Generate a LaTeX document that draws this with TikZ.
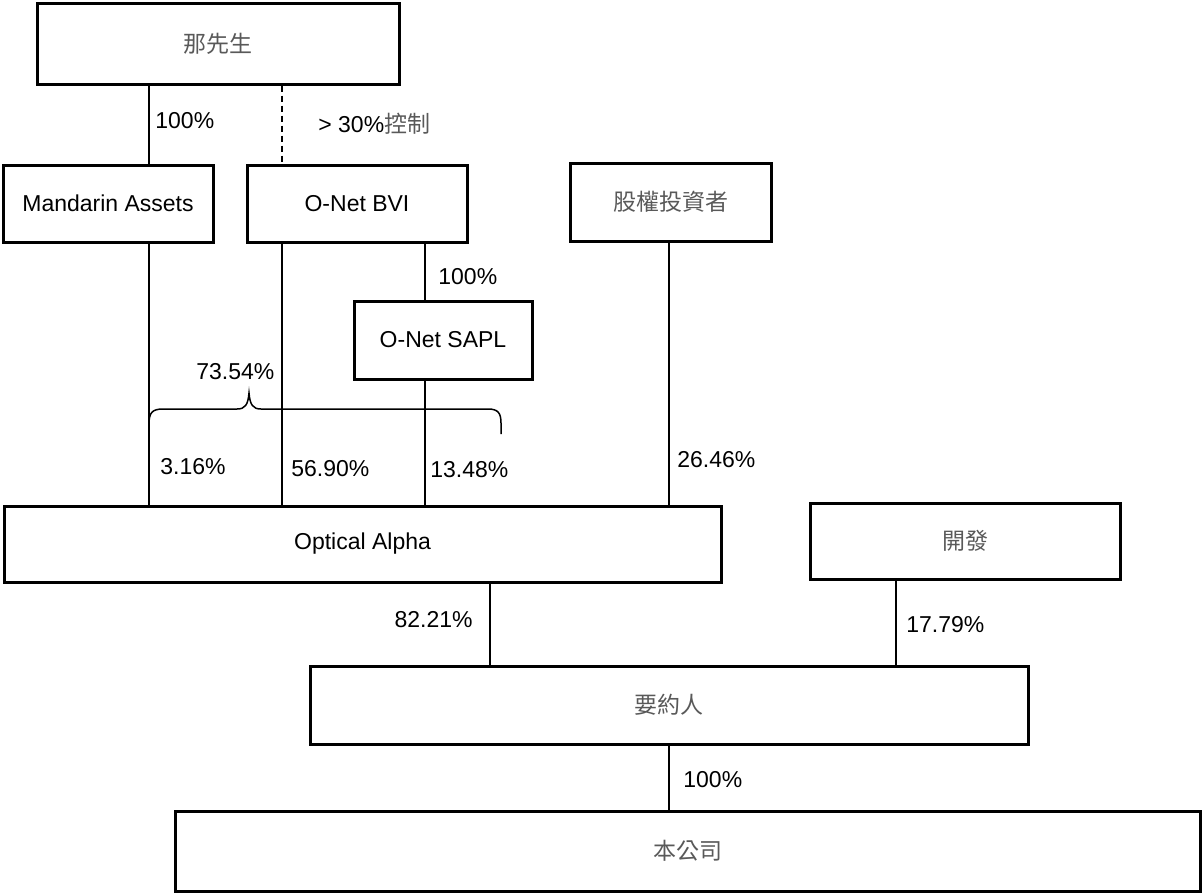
\documentclass[tikz,border=0pt]{standalone}
\usepackage{fontspec}
\setmainfont{Liberation Sans}
\newfontfamily\cjk{Noto Sans CJK TC}
\definecolor{cjkgray}{HTML}{595959}
\begin{document}
\begin{tikzpicture}[x=0.5pt,y=-0.5pt,
  box/.style={draw, line width=1.5pt, inner sep=0pt, font=\fontsize{11.5pt}{13pt}\selectfont},
  conn/.style={line width=0.75pt},
  lbl/.style={inner sep=0pt, font=\fontsize{11.5pt}{13pt}\selectfont},
  zh/.style={text=cjkgray}]
\useasboundingbox (0,0) rectangle (1203,894);
% boxes
\node[box, minimum width=181pt, minimum height=40.5pt] (top) at (218,43.5) {\cjk\color{cjkgray}那先生};
\node[box, minimum width=105pt, minimum height=38.5pt] (mand) at (108,203.5) {Mandarin Assets};
\node[box, minimum width=110pt, minimum height=38.5pt] (bvi) at (357,203.5) {O-Net BVI};
\node[box, minimum width=100.5pt, minimum height=39pt] (inv) at (670.5,202) {\cjk\color{cjkgray}股權投資者};
\node[box, minimum width=89pt, minimum height=39pt] (sapl) at (443,340) {O-Net SAPL};
\node[box, minimum width=358.5pt, minimum height=38pt] (oa) at (362.5,544) {Optical Alpha};
\node[box, minimum width=155pt, minimum height=38pt] (dev) at (965,541) {\cjk\color{cjkgray}開發};
\node[box, minimum width=359pt, minimum height=39pt] (offer) at (669,705) {\cjk\color{cjkgray}要約人};
\node[box, minimum width=512.5pt, minimum height=40pt] (co) at (687.5,851) {\cjk\color{cjkgray}本公司};
% x positions of connectors
\coordinate (xa) at (149,0);
\coordinate (xb) at (282,0);
\coordinate (xc) at (425,0);
\coordinate (xd) at (669,0);
\coordinate (xe) at (490,0);
\coordinate (xf) at (896,0);
% connectors
\draw[conn] (top.south -| xa) -- (mand.north -| xa);
\draw[conn, dash pattern=on 3pt off 2pt] (top.south -| xb) -- (bvi.north -| xb);
\draw[conn] (mand.south -| xa) -- (oa.north -| xa);
\draw[conn] (bvi.south -| xb) -- (oa.north -| xb);
\draw[conn] (bvi.south -| xc) -- (sapl.north -| xc);
\draw[conn] (sapl.south -| xc) -- (oa.north -| xc);
\draw[conn] (inv.south -| xd) -- (oa.north -| xd);
\draw[conn] (oa.south -| xe) -- (offer.north -| xe);
\draw[conn] (dev.south -| xf) -- (offer.north -| xf);
\draw[conn] (offer.south -| xd) -- (co.north -| xd);
% brace
\draw[conn] (149,434) -- (149,424) .. controls (149,413) and (152,409) .. (163,409) -- (237,409)
  .. controls (245,409) and (248,405) .. (249,393)
  .. controls (250,405) and (253,409) .. (261,409) -- (488,409)
  .. controls (498,409) and (501,413) .. (501,423) -- (501,434);
% labels
\node[lbl, anchor=west] (l1) at (155,121) {100\%};
\node[lbl, anchor=west] (l2) at (318,124) {> 30\%{\cjk\color{cjkgray}控制}};
\node[lbl, anchor=west] (l3) at (438,277) {100\%};
\node[lbl, anchor=west] (l4) at (196,372) {73.54\%};
\node[lbl, anchor=west] (l5) at (160,467) {3.16\%};
\node[lbl, anchor=west] (l6) at (291,469) {56.90\%};
\node[lbl, anchor=west] (l7) at (430,470) {13.48\%};
\node[lbl, anchor=west] (l8) at (677,460) {26.46\%};
\node[lbl, anchor=east] (l9) at (473,620) {82.21\%};
\node[lbl, anchor=west] (l10) at (906,625) {17.79\%};
\node[lbl, anchor=west] (l11) at (683,780) {100\%};
\end{tikzpicture}
\end{document}
